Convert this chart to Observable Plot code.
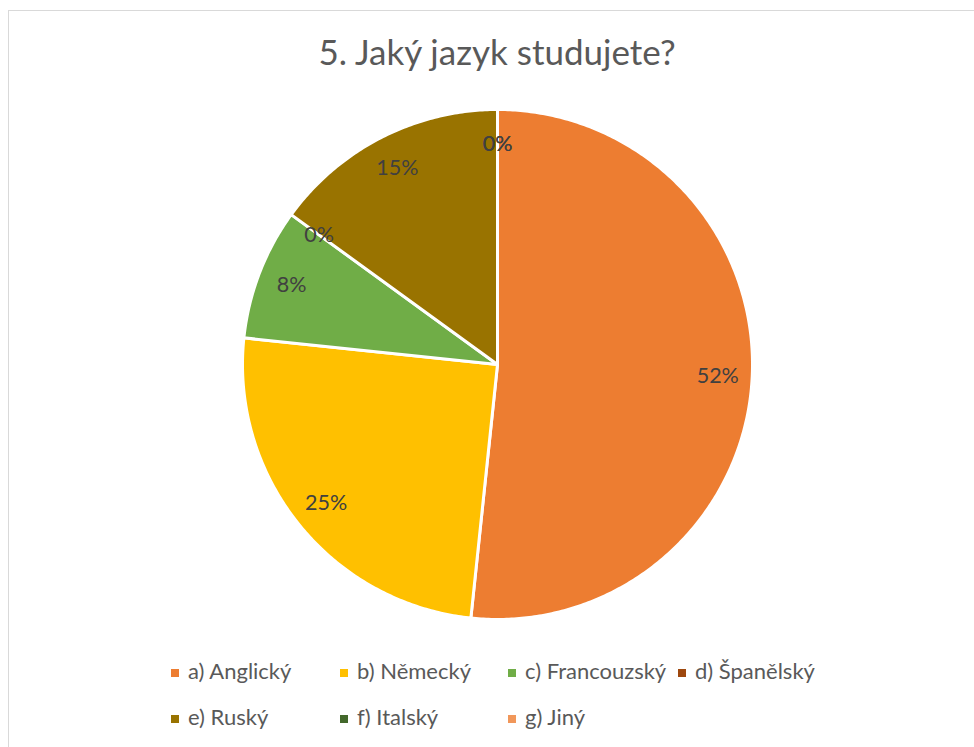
<!DOCTYPE html>
<html>
<head>
<meta charset="utf-8">
<script src="https://cdn.jsdelivr.net/npm/d3@7"></script>
<script src="https://cdn.jsdelivr.net/npm/@observablehq/plot@0.6"></script>
<style>
  html, body { margin: 0; padding: 0; background: #fff; }
  body { width: 974px; height: 747px; position: relative; overflow: hidden; font-family: Lato, "Open Sans", sans-serif; }
  #frame { position: absolute; left: 8px; top: 10px; width: 980px; height: 760px; border: 1px solid #d9d9d9; box-sizing: border-box; }
  #title { position: absolute; left: 0; width: 994px; top: 34px; text-align: center; font-size: 35px; color: #595959; line-height: 1; }
  #chart { position: absolute; left: 0; top: 95px; }
  .leg { position: absolute; font-size: 22px; color: #595959; line-height: 1; white-space: nowrap; }
  .sw { position: absolute; width: 8px; height: 8px; }
</style>
</head>
<body>
<div id="frame"></div>
<div id="title">5. Jaký jazyk studujete?</div>
<div id="chart"></div>
<div id="legend"></div>
<script>
const categories = ["a) Anglický", "b) Německý", "c) Francouzský", "d) Španělský", "e) Ruský", "f) Italský", "g) Jiný"];
const counts = [31, 15, 5, 0, 9, 0, 0];
const colors = ["#ED7D31", "#FFC000", "#70AD47", "#9E480E", "#997300", "#43682B", "#F1975A"];

const total = d3.sum(counts);
const arcs = d3.pie().sort(null).value(d => d.value)(categories.map((key, i) => ({key, value: counts[i]})));

// polygon outline points for each non-empty slice (angles clockwise from top)
const outline = [];
for (const a of arcs) {
  if (a.value <= 0) continue;
  outline.push({key: a.data.key, x: 0, y: 0});
  const n = Math.max(2, Math.ceil((a.endAngle - a.startAngle) / 0.01));
  for (let k = 0; k <= n; k++) {
    const t = a.startAngle + (a.endAngle - a.startAngle) * k / n;
    outline.push({key: a.data.key, x: Math.sin(t), y: Math.cos(t)});
  }
}
const labelR = 0.865;
const labels = arcs.map(a => {
  const m = (a.startAngle + a.endAngle) / 2;
  return {key: a.data.key, x: labelR * Math.sin(m), y: labelR * Math.cos(m), text: Math.round(a.value / total * 100) + "%"};
});

const plot = Plot.plot({
  width: 974,
  height: 540,
  marginLeft: 242,
  marginRight: 222,
  marginTop: 14,
  marginBottom: 16,
  x: {domain: [-1, 1], axis: null},
  y: {domain: [-1, 1], axis: null},
  color: {domain: categories, range: colors},
  style: {background: "transparent", fontFamily: "Lato, sans-serif"},
  marks: [
    Plot.line(outline, {x: "x", y: "y", z: "key", fill: "key", stroke: "white", strokeWidth: 3, curve: "linear-closed"}),
    Plot.text(labels, {x: "x", y: "y", text: "text", fill: "#404040", fontSize: 21.5, fontFamily: "Lato, sans-serif"})
  ]
});
document.getElementById("chart").appendChild(plot);

const legendPos = [[171, 673], [340, 673], [508, 673], [678, 673], [171, 719], [340, 719], [508, 719]];
const leg = document.getElementById("legend");
categories.forEach((c, i) => {
  const [lx, ly] = legendPos[i];
  const s = document.createElement("div");
  s.className = "sw";
  s.style.left = lx + "px";
  s.style.top = (ly - 4) + "px";
  s.style.background = colors[i];
  leg.appendChild(s);
  const d = document.createElement("div");
  d.className = "leg";
  d.style.left = (lx + 17) + "px";
  d.style.top = (ly - 13.2) + "px";
  d.textContent = c;
  leg.appendChild(d);
});
</script>
</body>
</html>
